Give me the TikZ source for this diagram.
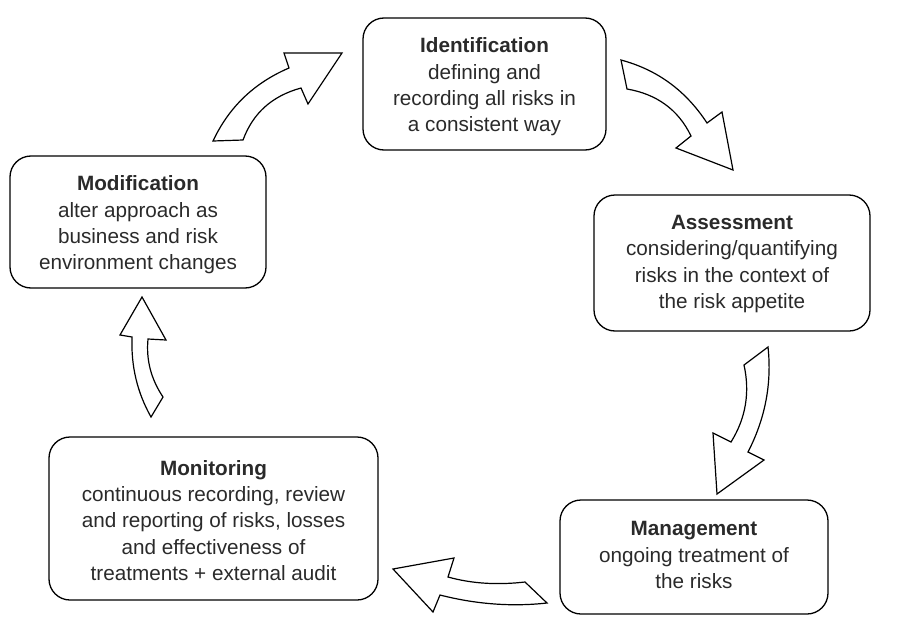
\documentclass[tikz,border=0pt]{standalone}
\usepackage{fontspec}
\setmainfont{Liberation Sans}
\definecolor{txt}{HTML}{2A2A2A}
\begin{document}
\begin{tikzpicture}[x=1pt,y=-1pt,
  box/.style={draw=black, line width=1.3pt, rounded corners=21pt, inner sep=0pt},
  label/.style={align=center, inner sep=0pt, text=txt, font=\fontsize{20.7}{26.3}\selectfont},
  blockarrow/.style={draw=black, fill=white, line width=1.2pt, line join=miter}]
\useasboundingbox (0,0) rectangle (904,642);
% boxes
\node[box, minimum width=243pt, minimum height=132pt] (ident) at (484.5,84) {};
\node[label] (identt) at ([yshift=-3pt]ident.center) {\textbf{Identification}\\defining and\\recording all risks in\\a consistent way};
\node[box, minimum width=276pt, minimum height=136pt] (assess) at (732,263) {};
\node[label] (assesst) at ([yshift=-1pt]assess.center) {\textbf{Assessment}\\considering/quantifying\\risks in the context of\\the risk appetite};
\node[box, minimum width=268pt, minimum height=114pt] (manage) at (694,557) {};
\node[label] (managet) at ([yshift=2pt]manage.center) {\textbf{Management}\\ongoing treatment of\\the risks};
\node[box, minimum width=329pt, minimum height=163pt] (monit) at (213.5,518.5) {};
\node[label] (monitt) at ([yshift=-2pt]monit.center) {\textbf{Monitoring}\\continuous recording, review\\and reporting of risks, losses\\and effectiveness of\\treatments + external audit};
\node[box, minimum width=256pt, minimum height=132pt] (modif) at (138,222) {};
\node[label] (modift) at ([yshift=-3pt]modif.center) {\textbf{Modification}\\alter approach as\\business and risk\\environment changes};
% block arrows
% Modification -> Identification
\draw[blockarrow] (213,141) .. controls (229,107) and (254,83) .. (289,68) -- (284,53) -- (342,53) -- (308,104) -- (301,88)
  .. controls (272,96) and (253,113) .. (243,140) -- cycle;
% Identification -> Assessment
\draw[blockarrow] (621,60) .. controls (658,70) and (686,91) .. (707,123) -- (722,112) -- (733,170) -- (676,148) -- (691,136)
  .. controls (678,109) and (656,94) .. (627,89) -- cycle;
% Assessment -> Management
\draw[blockarrow] (768,347) .. controls (772,384) and (765,419) .. (748,452) -- (764,460) -- (717,494) -- (713,433) -- (731,442)
  .. controls (746,418) and (750,392) .. (744,365) -- cycle;
% Management -> Monitoring
\draw[blockarrow] (525,582) .. controls (499,585) and (473,584) .. (448,577) -- (454,558) -- (393,569) -- (433,612) -- (440,595)
  .. controls (475,604) and (511,607) .. (547,603) -- cycle;
% Monitoring -> Modification
\draw[blockarrow] (163,397) .. controls (151,379) and (146,360) .. (148,339) -- (166,340) -- (142,297) -- (120,335) -- (132,337)
  .. controls (131,366) and (137,392) .. (151,417) -- cycle;
\end{tikzpicture}
\end{document}
